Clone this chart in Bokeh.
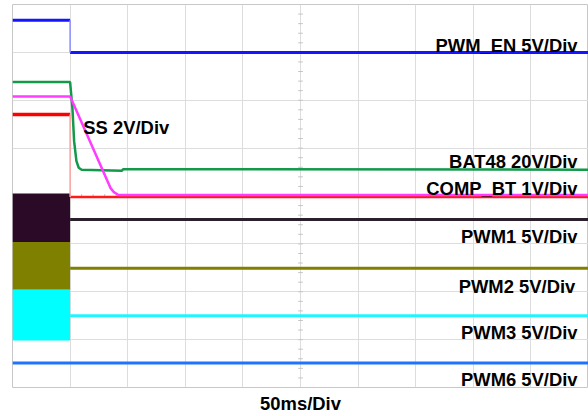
import numpy as np
from bokeh.plotting import figure
from bokeh.models import Grid, SingleIntervalTicker, Label, Range1d, LinearAxis, FixedTicker
from bokeh.embed import file_html
from bokeh.resources import INLINE

# ---- data (x in time divisions of 50 ms, y in vertical divisions) ----
# PWM_EN: step from high to low at t = 1 div
en_t = [0.0, 1.0, 1.0, 10.0]
en_v = [7.67, 7.67, 7.0, 7.0]

# BAT48 (green)
bat_t = [0.0, 1.0, 1.04, 1.07, 1.11, 1.15, 1.20, 1.90, 1.92, 10.0]
bat_v = [6.38, 6.38, 5.84, 5.14, 4.73, 4.59, 4.55, 4.53, 4.56, 4.55]

# SS soft start (magenta)
ss_t = [0.0, 1.0, 1.03, 1.70, 1.76, 1.84, 10.0]
ss_v = [6.08, 6.08, 6.00, 4.17, 4.08, 4.02, 4.02]

# COMP_BT (red)
comp_t = [0.0, 1.0, 1.0, 10.0]
comp_v = [5.70, 5.70, 3.98, 3.98]

# switching PWM channels: burst envelope before t_stop, then idle level
pwm_names = ["PWM1", "PWM2", "PWM3"]
pwm_colors = ["#2a0a26", "#7f7f00", "#00ffff"]
pwm_line_colors = ["#2b1f2b", "#808000", "#22f4ff"]
pwm_high = [4.05, 3.04, 2.04]
pwm_low = [3.04, 2.04, 0.98]
pwm_idle = [3.51, 2.49, 1.50]
pwm_stop = 1.0

# PWM6 (always idle)
pwm6_t = [0.0, 10.0]
pwm6_v = [0.51, 0.51]

FONT = "Liberation Sans"
FSIZE = "18.4px"

p = figure(width=588, height=416, x_range=Range1d(0, 10), y_range=Range1d(0, 8),
           x_axis_type=None, y_axis_type=None, toolbar_location=None,
           output_backend="svg", min_border_left=12, min_border_right=0,
           min_border_top=4, min_border_bottom=27)
p.outline_line_color = "#c8c8c8"
p.background_fill_color = "white"
p.border_fill_color = "white"

p.add_layout(Grid(dimension=0, ticker=SingleIntervalTicker(interval=1),
                  grid_line_color="#dddddd", grid_line_width=1))
p.add_layout(Grid(dimension=1, ticker=SingleIntervalTicker(interval=1),
                  grid_line_color="#dddddd", grid_line_width=1))

# time axis caption only
xax = LinearAxis(ticker=FixedTicker(ticks=[]), axis_line_color=None,
                 major_tick_line_color=None, minor_tick_line_color=None,
                 axis_label="50ms/Div", axis_label_standoff=5,
                 axis_label_text_font=FONT, axis_label_text_font_style="bold",
                 axis_label_text_font_size=FSIZE, axis_label_text_color="black")
p.add_layout(xax, "below")

# graticule centre minor ticks
cy = np.arange(0.2, 8.0, 0.2)
p.segment(x0=[4.96] * len(cy), y0=cy, x1=[5.04] * len(cy), y1=cy,
          line_color="#c4c4c4", line_width=1)
cx = np.arange(0.2, 10.0, 0.2)
p.segment(x0=cx, y0=[3.96] * len(cx), x1=cx, y1=[4.04] * len(cx),
          line_color="#c4c4c4", line_width=1)

# PWM bursts (filled envelopes) and idle levels
for i in range(3):
    p.quad(left=[0], right=[pwm_stop], bottom=[pwm_low[i]], top=[pwm_high[i]],
           fill_color=pwm_colors[i], line_color=None)
    p.line(x=[pwm_stop, 10], y=[pwm_idle[i], pwm_idle[i]],
           line_color=pwm_line_colors[i], line_width=3)

p.line(x=pwm6_t, y=pwm6_v, line_color="#1f74ff", line_width=3)

# step traces: levels strong, fast edge faint
p.line(x=en_t[:2], y=en_v[:2], line_color="#1414ff", line_width=3)
p.line(x=en_t[2:], y=en_v[2:], line_color="#1414ff", line_width=3)
p.line(x=en_t[1:3], y=en_v[1:3], line_color="#8c8cff", line_width=1.5)

p.line(x=comp_t[:2], y=comp_v[:2], line_color="#ff0000", line_width=3.5)
p.line(x=comp_t[2:], y=comp_v[2:], line_color="#ff1a1a", line_width=2.5)

p.line(x=bat_t, y=bat_v, line_color="#12994a", line_width=2.5)
p.line(x=ss_t, y=ss_v, line_color="#ff3cff", line_width=2.5)
p.line(x=comp_t[1:3], y=comp_v[1:3], line_color="#ffa0a0", line_width=1.5)

labels = [
    ("PWM_EN 5V/Div", 9.81, 7.15, "right"),
    ("SS 2V/Div", 1.23, 5.43, "left"),
    ("BAT48 20V/Div", 9.81, 4.72, "right"),
    ("COMP_BT 1V/Div", 9.81, 4.16, "right"),
    ("PWM1 5V/Div", 9.81, 3.16, "right"),
    ("PWM2 5V/Div", 9.77, 2.10, "right"),
    ("PWM3 5V/Div", 9.81, 1.14, "right"),
    ("PWM6 5V/Div", 9.81, 0.17, "right"),
]
for txt, x, y, al in labels:
    p.add_layout(Label(x=x, y=y, text=txt, text_align=al, text_baseline="alphabetic",
                       text_font=FONT, text_font_style="bold", text_font_size=FSIZE,
                       text_color="black"))

open("out.html", "w").write(file_html(p, INLINE))
